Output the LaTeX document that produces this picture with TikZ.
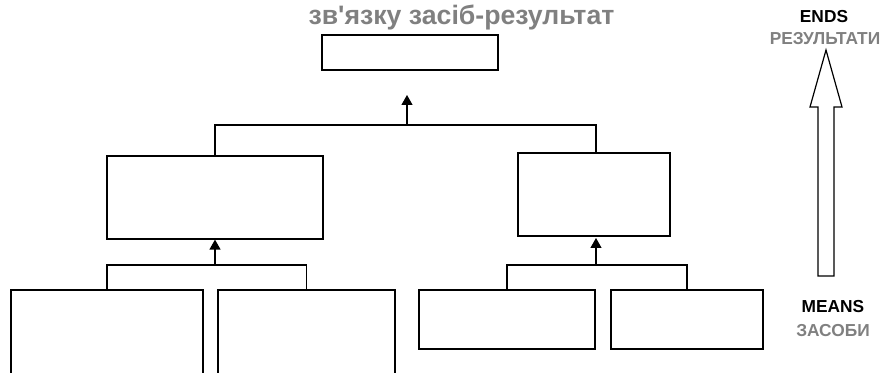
\documentclass[tikz,border=0pt]{standalone}
\usepackage{fontspec}
\setmainfont{Liberation Sans}
\usetikzlibrary{arrows.meta}
\definecolor{labelgray}{RGB}{128,128,128}
\tikzset{every picture/.style={line width=0.9pt}}
\tikzset{
  goalbox/.style={draw, fill=white, inner sep=0pt, minimum width=#1},
  upto/.style={-{Triangle[width=8.25pt,length=7.5pt]}},
  graytext/.style={text=labelgray, font=\bfseries\fontsize{13}{15}\selectfont, anchor=base},
  blacktext/.style={text=black, font=\bfseries\fontsize{13}{15}\selectfont, anchor=base}
}

\begin{document}
\begin{tikzpicture}[x=0.75pt,y=0.75pt,yscale=-1,xscale=1]
\useasboundingbox (0,0) rectangle (886,373);

%Shape: Rectangle [top goal]
\node[goalbox=132pt, minimum height=26.25pt] (top) at (410,52.5) {};
%Shape: Rectangle [middle goals]
\node[goalbox=162pt, minimum height=62.25pt] (midL) at (215,197.5) {};
\node[goalbox=114pt, minimum height=62.25pt] (midR) at (594,194.5) {};
%Shape: Rectangle [bottom means]
\node[goalbox=144pt, minimum height=71.25pt] (botA) at (107,337.5) {};
\node[goalbox=132.75pt, minimum height=71.25pt] (botB) at (306.5,337.5) {};
\node[goalbox=132pt, minimum height=44.25pt] (botC) at (507,319.5) {};
\node[goalbox=114pt, minimum height=44.25pt] (botD) at (687,319.5) {};

%Coordinates of the buses
\coordinate (busT) at (407,125);
\coordinate (tipT) at (407,95);
\coordinate (busL) at (215,265);
\coordinate (busR) at (596,265);

%Straight Lines [buses]
\draw (midL.north) |- (busT) -| (596,153);
\draw (botA.north) |- (busL) -| (botB.north);
\draw (botC.north) |- (busR) -| (botD.north);
%Straight Lines [arrows]
\draw[upto] (busT) -- (tipT);
\draw[upto] (busL) -- (midL.south);
\draw[upto] (busR) -- (596,238);

%Shape: Hollow Arrow
\draw (818,276) -- (818,107) -- (810,107) -- (826,50) -- (842,107) -- (834,107) -- (834,276) -- cycle;

% Text Node
\node[text=labelgray, font=\bfseries\fontsize{20}{23}\selectfont, anchor=base] (title) at (461.5,25) {зв\textquotesingle язку засіб-результат};
% Text Node
\node[blacktext] (ends) at (824,23) {ENDS};
% Text Node
\node[graytext] (res) at (825,45) {РЕЗУЛЬТАТИ};
% Text Node
\node[blacktext] (means) at (833,313) {MEANS};
% Text Node
\node[graytext] (sas) at (833,337) {ЗАСОБИ};
\end{tikzpicture}
\end{document}
